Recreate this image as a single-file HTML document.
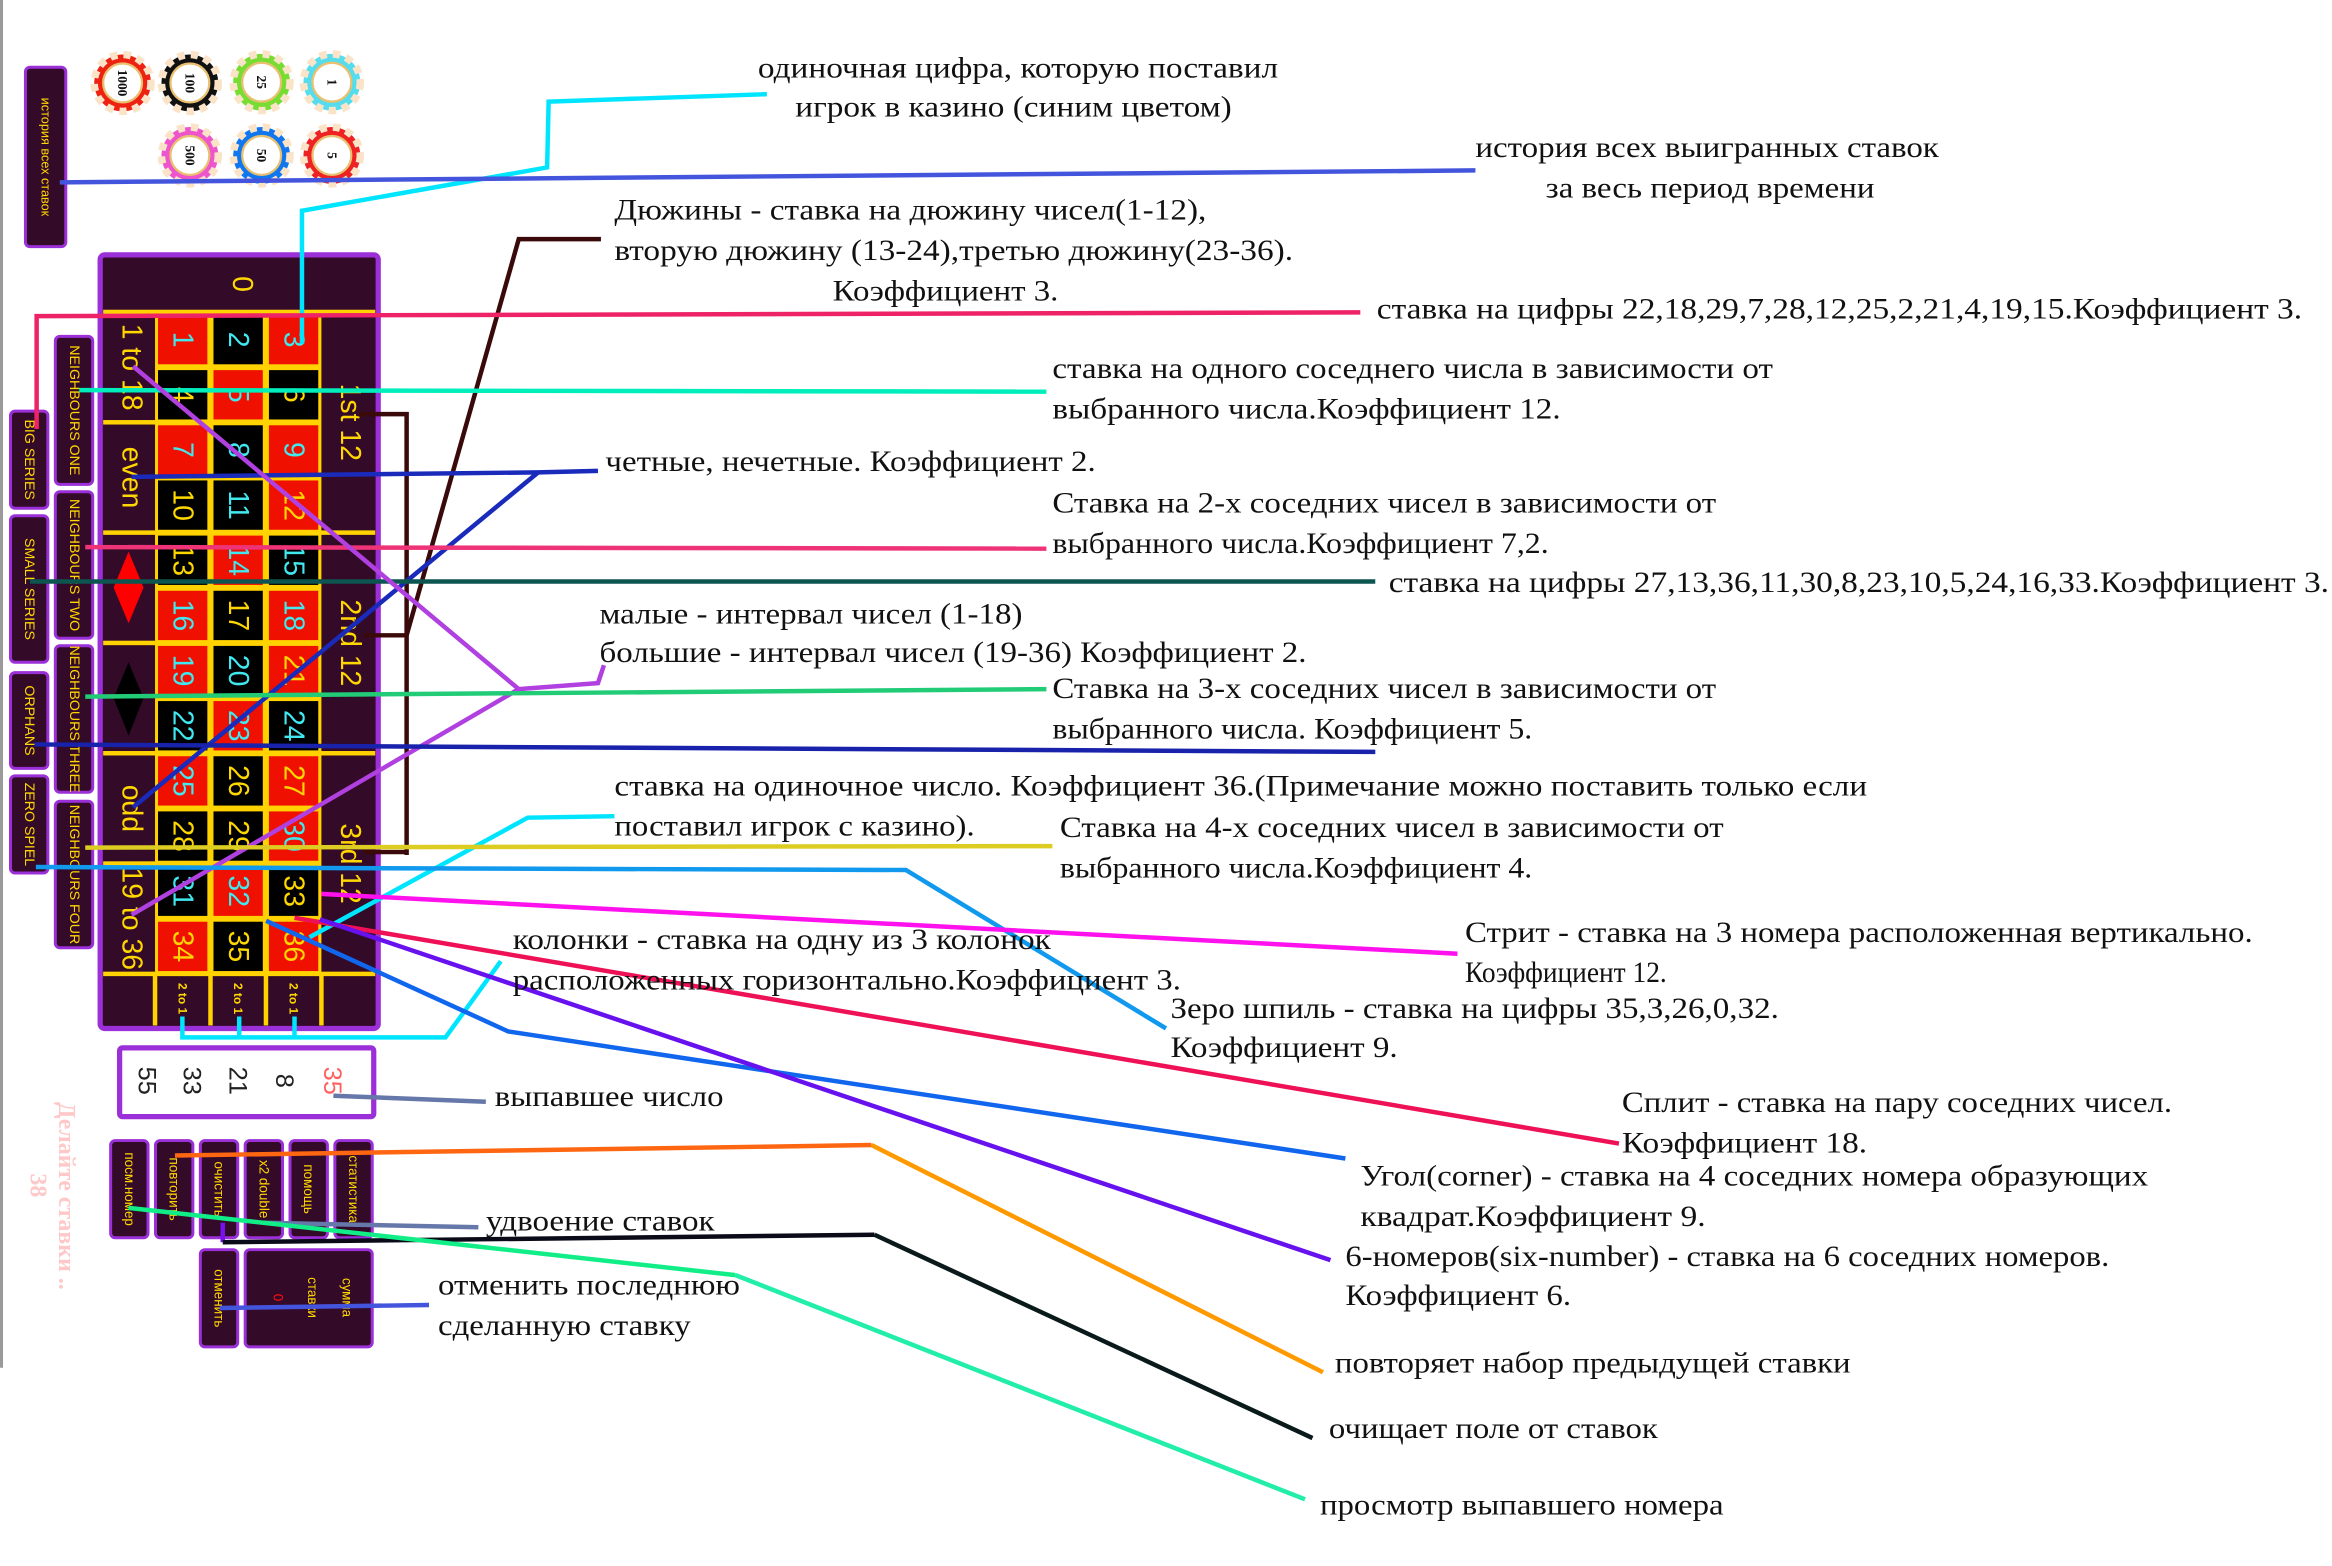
<!DOCTYPE html>
<html><head><meta charset="utf-8"><style>
html,body{margin:0;padding:0;background:#fff;}
svg{display:block;}
.t{font-family:"Liberation Serif",serif;font-size:20px;fill:#111;}
.s{font-family:"Liberation Sans",sans-serif;}
</style></head><body>
<svg width="2332" height="1566" viewBox="0 0 1560 1047.6" xmlns="http://www.w3.org/2000/svg">
<rect x="0" y="0" width="1560" height="1047.6" fill="#fff"/>
<line x1="1" y1="0" x2="1" y2="915" stroke="#999" stroke-width="2"/>

<!-- chips -->
<g stroke-dasharray="5 4" stroke-width="5">
<circle cx="82" cy="55.5" r="19" fill="#ee2211" stroke="#fbe3c8"/>
<circle cx="127" cy="55.5" r="19" fill="#111" stroke="#fbe3c8"/>
<circle cx="175" cy="55" r="19" fill="#77dd33" stroke="#fbe3c8"/>
<circle cx="222" cy="55" r="19" fill="#55ddee" stroke="#fbe3c8"/>
<circle cx="127" cy="104" r="19" fill="#ee55cc" stroke="#fbe3c8"/>
<circle cx="175" cy="104" r="19" fill="#1177ee" stroke="#fbe3c8"/>
<circle cx="222" cy="104" r="19" fill="#ee2222" stroke="#fbe3c8"/>
</g>
<g fill="#fff" stroke="#e8c070" stroke-width="1.5">
<circle cx="82" cy="55.5" r="13"/><circle cx="127" cy="55.5" r="13"/><circle cx="175" cy="55" r="13"/><circle cx="222" cy="55" r="13"/>
<circle cx="127" cy="104" r="13"/><circle cx="175" cy="104" r="13"/><circle cx="222" cy="104" r="13"/>
</g>
<g font-family="Liberation Serif,serif" font-weight="bold" font-size="9" fill="#111" text-anchor="middle" dominant-baseline="central">
<text transform="translate(82,55.5) rotate(90)">1000</text>
<text transform="translate(127,55.5) rotate(90)">100</text>
<text transform="translate(175,55) rotate(90)">25</text>
<text transform="translate(222,55) rotate(90)">1</text>
<text transform="translate(127,104) rotate(90)">500</text>
<text transform="translate(175,104) rotate(90)">50</text>
<text transform="translate(222,104) rotate(90)">5</text>
</g>

<!-- side boxes -->
<g fill="#330a28" stroke="#9b2fd8" stroke-width="2">
<rect x="17" y="45" width="27" height="120" rx="3"/>
<rect x="37" y="225" width="25" height="99" rx="3"/>
<rect x="37" y="329" width="25" height="98" rx="3"/>
<rect x="37" y="432" width="25" height="98" rx="3"/>
<rect x="37" y="536" width="25" height="98" rx="3"/>
<rect x="7" y="275" width="25" height="65" rx="3"/>
<rect x="7" y="345" width="25" height="98" rx="3"/>
<rect x="7" y="450" width="25" height="64" rx="3"/>
<rect x="7" y="519" width="25" height="65" rx="3"/>
</g>
<g class="s" font-size="9.5" fill="#ffd700" text-anchor="middle" dominant-baseline="central">
<text transform="translate(30.5,105) rotate(90)" font-size="8.5">история всех ставок</text>
<text transform="translate(49.5,274.5) rotate(90)">NEIGHBOURS ONE</text>
<text transform="translate(49.5,378) rotate(90)">NEIGHBOURS TWO</text>
<text transform="translate(49.5,481) rotate(90)">NEIGHBOURS THREE</text>
<text transform="translate(49.5,585) rotate(90)">NEIGHBOURS FOUR</text>
<text transform="translate(19.5,307.5) rotate(90)">BIG SERIES</text>
<text transform="translate(19.5,394) rotate(90)">SMALL SERIES</text>
<text transform="translate(19.5,482) rotate(90)">ORPHANS</text>
<text transform="translate(19.5,551.5) rotate(90)">ZERO SPIEL</text>
</g>

<!-- table -->
<rect x="67" y="170.5" width="186" height="517.5" rx="3" fill="#330a28" stroke="#9b2fd8" stroke-width="3.5"/>
<rect x="103.7" y="208.7" width="111.3" height="442.8" fill="#ffd200"/>
<g fill="#ffd200">
<rect x="69" y="207.2" width="182" height="3"/>
<rect x="69" y="281" width="36" height="3"/><rect x="69" y="354.8" width="36" height="3"/>
<rect x="69" y="428.6" width="36" height="3"/><rect x="69" y="502.4" width="36" height="3"/>
<rect x="69" y="576.2" width="36" height="3"/><rect x="69" y="650" width="182" height="3"/>
<rect x="214" y="354.8" width="37" height="3"/><rect x="214" y="502.4" width="37" height="3"/>
<rect x="102.2" y="651" width="3" height="35"/><rect x="139.3" y="651" width="3" height="35"/>
<rect x="176.4" y="651" width="3" height="35"/><rect x="213.5" y="651" width="3" height="35"/>
</g>
<g>
<!-- rows: fill red (#f01000) or black -->
<rect x="105.7" y="210.7" width="33" height="33" fill="#f01000"/><rect x="142.8" y="210.7" width="33" height="33" fill="#000"/><rect x="179.9" y="210.7" width="33" height="33" fill="#f01000"/>
<rect x="105.7" y="247.6" width="33" height="33" fill="#000"/><rect x="142.8" y="247.6" width="33" height="33" fill="#f01000"/><rect x="179.9" y="247.6" width="33" height="33" fill="#000"/>
<rect x="105.7" y="284.5" width="33" height="33" fill="#f01000"/><rect x="142.8" y="284.5" width="33" height="33" fill="#000"/><rect x="179.9" y="284.5" width="33" height="33" fill="#f01000"/>
<rect x="105.7" y="321.4" width="33" height="33" fill="#000"/><rect x="142.8" y="321.4" width="33" height="33" fill="#000"/><rect x="179.9" y="321.4" width="33" height="33" fill="#f01000"/>
<rect x="105.7" y="358.3" width="33" height="33" fill="#000"/><rect x="142.8" y="358.3" width="33" height="33" fill="#f01000"/><rect x="179.9" y="358.3" width="33" height="33" fill="#000"/>
<rect x="105.7" y="395.2" width="33" height="33" fill="#f01000"/><rect x="142.8" y="395.2" width="33" height="33" fill="#000"/><rect x="179.9" y="395.2" width="33" height="33" fill="#f01000"/>
<rect x="105.7" y="432.1" width="33" height="33" fill="#f01000"/><rect x="142.8" y="432.1" width="33" height="33" fill="#000"/><rect x="179.9" y="432.1" width="33" height="33" fill="#f01000"/>
<rect x="105.7" y="469" width="33" height="33" fill="#000"/><rect x="142.8" y="469" width="33" height="33" fill="#f01000"/><rect x="179.9" y="469" width="33" height="33" fill="#000"/>
<rect x="105.7" y="505.9" width="33" height="33" fill="#f01000"/><rect x="142.8" y="505.9" width="33" height="33" fill="#000"/><rect x="179.9" y="505.9" width="33" height="33" fill="#f01000"/>
<rect x="105.7" y="542.8" width="33" height="33" fill="#000"/><rect x="142.8" y="542.8" width="33" height="33" fill="#000"/><rect x="179.9" y="542.8" width="33" height="33" fill="#f01000"/>
<rect x="105.7" y="579.7" width="33" height="33" fill="#000"/><rect x="142.8" y="579.7" width="33" height="33" fill="#f01000"/><rect x="179.9" y="579.7" width="33" height="33" fill="#000"/>
<rect x="105.7" y="616.6" width="33" height="33" fill="#f01000"/><rect x="142.8" y="616.6" width="33" height="33" fill="#000"/><rect x="179.9" y="616.6" width="33" height="33" fill="#f01000"/>
</g>
<g class="s" font-size="19" text-anchor="middle" dominant-baseline="central">
<g fill="#40e8f0">
<text transform="translate(122.2,227.2) rotate(90)">1</text><text transform="translate(159.3,227.2) rotate(90)">2</text><text transform="translate(196.4,227.2) rotate(90)">3</text>
<text transform="translate(159.3,264.1) rotate(90)">5</text>
<text transform="translate(122.2,301) rotate(90)">7</text><text transform="translate(159.3,301) rotate(90)">8</text><text transform="translate(196.4,301) rotate(90)">9</text>
<text transform="translate(159.3,337.9) rotate(90)">11</text>
<text transform="translate(159.3,374.8) rotate(90)">14</text><text transform="translate(196.4,374.8) rotate(90)">15</text>
<text transform="translate(122.2,411.7) rotate(90)">16</text><text transform="translate(196.4,411.7) rotate(90)">18</text>
<text transform="translate(122.2,448.6) rotate(90)">19</text><text transform="translate(159.3,448.6) rotate(90)">20</text>
<text transform="translate(122.2,485.5) rotate(90)">22</text><text transform="translate(159.3,485.5) rotate(90)">23</text><text transform="translate(196.4,485.5) rotate(90)">24</text>
<text transform="translate(122.2,522.4) rotate(90)">25</text>
<text transform="translate(196.4,559.3) rotate(90)">30</text>
<text transform="translate(122.2,596.2) rotate(90)">31</text><text transform="translate(159.3,596.2) rotate(90)">32</text>
</g>
<g fill="#ffd700">
<text transform="translate(122.2,264.1) rotate(90)">4</text><text transform="translate(196.4,264.1) rotate(90)">6</text>
<text transform="translate(122.2,337.9) rotate(90)">10</text><text transform="translate(196.4,337.9) rotate(90)">12</text>
<text transform="translate(122.2,374.8) rotate(90)">13</text>
<text transform="translate(159.3,411.7) rotate(90)">17</text>
<text transform="translate(196.4,448.6) rotate(90)">21</text>
<text transform="translate(159.3,522.4) rotate(90)">26</text><text transform="translate(196.4,522.4) rotate(90)">27</text>
<text transform="translate(122.2,559.3) rotate(90)">28</text><text transform="translate(159.3,559.3) rotate(90)">29</text>
<text transform="translate(196.4,596.2) rotate(90)">33</text>
<text transform="translate(122.2,633.1) rotate(90)">34</text><text transform="translate(159.3,633.1) rotate(90)">35</text><text transform="translate(196.4,633.1) rotate(90)">36</text>
<text transform="translate(162,190) rotate(90)">0</text>
<text transform="translate(88,245.6) rotate(90)">1 to 18</text>
<text transform="translate(88,319.4) rotate(90)">even</text>
<text transform="translate(88,540.8) rotate(90)">odd</text>
<text transform="translate(88,614.6) rotate(90)">19 to 36</text>
<text transform="translate(234,282.5) rotate(90)">1st 12</text>
<text transform="translate(234,430.1) rotate(90)">2nd 12</text>
<text transform="translate(234,577.7) rotate(90)">3rd 12</text>
<g font-size="8" font-weight="bold">
<text transform="translate(122.2,668) rotate(90)">2 to 1</text>
<text transform="translate(159.3,668) rotate(90)">2 to 1</text>
<text transform="translate(196.4,668) rotate(90)">2 to 1</text>
</g>
</g>
</g>
<polygon points="86,369 96,393 86,417 76,393" fill="#ff0000"/>
<polygon points="86,443 96,467 86,492 76,467" fill="#000"/>

<!-- history box -->
<rect x="80" y="701" width="170" height="46" rx="2" fill="#fff" stroke="#9b2fd8" stroke-width="3.5"/>
<g class="s" font-size="17" text-anchor="middle" dominant-baseline="central" fill="#222">
<text transform="translate(98,723) rotate(90)">55</text>
<text transform="translate(128,723) rotate(90)">33</text>
<text transform="translate(159,723) rotate(90)">21</text>
<text transform="translate(190,723) rotate(90)">8</text>
<text transform="translate(222,723) rotate(90)" fill="#ff6060">35</text>
</g>

<!-- buttons -->
<g fill="#330a28" stroke="#9b2fd8" stroke-width="2">
<rect x="74" y="763" width="25" height="65" rx="3"/>
<rect x="104" y="763" width="25" height="65" rx="3"/>
<rect x="134" y="763" width="25" height="65" rx="3"/>
<rect x="164" y="763" width="25" height="65" rx="3"/>
<rect x="194" y="763" width="25" height="65" rx="3"/>
<rect x="224" y="763" width="25" height="65" rx="3"/>
<rect x="134" y="836" width="25" height="65" rx="3"/>
<rect x="164" y="836" width="85" height="65" rx="3"/>
</g>
<g class="s" font-size="9" fill="#ffd700" text-anchor="middle" dominant-baseline="central">
<text transform="translate(86.5,795.5) rotate(90)">посм.номер</text>
<text transform="translate(116.5,795.5) rotate(90)">повторить</text>
<text transform="translate(146.5,795.5) rotate(90)">очистить</text>
<text transform="translate(176.5,795.5) rotate(90)">x2 double</text>
<text transform="translate(206.5,795.5) rotate(90)">помощь</text>
<text transform="translate(236.5,795.5) rotate(90)">статистика</text>
<text transform="translate(146.5,868.5) rotate(90)">отменить</text>
<text transform="translate(232,868) rotate(90)">сумма</text>
<text transform="translate(209,868) rotate(90)">ставки</text>
<text transform="translate(186,868) rotate(90)" fill="#ff1010">0</text>
</g>
<g font-family="Liberation Serif,serif" font-weight="bold" fill="#ffc8c8" text-anchor="middle" dominant-baseline="central">
<text transform="translate(44,800) rotate(90)" font-size="16">Делайте ставки ..</text>
<text transform="translate(25,793) rotate(90)" font-size="16">38</text>
</g>

<!-- connectors -->
<g fill="none" stroke-width="3" stroke-linejoin="miter">
<polyline points="513,63 367,68 366,112 202,141 202,230" stroke="#00e5ff"/>
<line x1="40" y1="122" x2="987" y2="114" stroke="#4455dd"/>
<polyline points="402,160 347,160 272,425" stroke="#3a0a0a"/>
<polyline points="240,277 272,277 272,572" stroke="#3a0a0a"/>
<line x1="243" y1="425" x2="272" y2="425" stroke="#3a0a0a"/>
<line x1="243" y1="570" x2="272" y2="570" stroke="#3a0a0a"/>
<polyline points="910,209 24.5,211.5 24.5,287" stroke="#ee2266"/>
<line x1="53" y1="261" x2="700" y2="262" stroke="#00eebb"/>
<polyline points="400,315 360,316 88,319" stroke="#1a2abb"/>
<line x1="360" y1="316" x2="89" y2="540" stroke="#1a2abb"/>
<line x1="57" y1="366" x2="700" y2="367" stroke="#ee3377"/>
<line x1="20" y1="389" x2="920" y2="389" stroke="#0c5550"/>
<polyline points="404,445 400,457 347,461 89,245" stroke="#b040e0"/>
<line x1="347" y1="461" x2="88" y2="612" stroke="#b040e0"/>
<line x1="57" y1="466" x2="700" y2="461" stroke="#22cc77"/>
<line x1="23" y1="498" x2="920" y2="503" stroke="#1822aa"/>
<polyline points="411,546 353,547 207,627" stroke="#00e5ff"/>
<polyline points="122,680 122,694 298,694 335,643" stroke="#00e5ff"/>
<line x1="160" y1="680" x2="160" y2="694" stroke="#00e5ff"/>
<line x1="197" y1="680" x2="197" y2="694" stroke="#00e5ff"/>
<line x1="57" y1="567" x2="704" y2="566" stroke="#ddcc22"/>
<polyline points="24,580 606,582 780,688" stroke="#1199ee"/>
<line x1="215" y1="598" x2="975" y2="638" stroke="#ff11ee"/>
<line x1="197" y1="614" x2="1083" y2="765" stroke="#ee1155"/>
<polyline points="178,616 340,690 900,775" stroke="#1166ee"/>
<line x1="214" y1="615" x2="890" y2="843" stroke="#6611ee"/>
<line x1="223" y1="733" x2="325" y2="737" stroke="#6677aa"/>
<line x1="117" y1="773" x2="583" y2="766" stroke="#ff6611"/>
<line x1="583" y1="766" x2="885" y2="918" stroke="#ff9900"/>
<line x1="176" y1="818" x2="320" y2="821" stroke="#6677aa"/>
<line x1="149" y1="818" x2="149" y2="831" stroke="#7711ee"/>
<line x1="149" y1="831" x2="585" y2="826" stroke="#0a0a18"/>
<line x1="585" y1="826" x2="878" y2="962" stroke="#0a1a1a"/>
<line x1="147" y1="875" x2="287" y2="873" stroke="#4455dd"/>
<line x1="86" y1="808" x2="492" y2="853" stroke="#11ee88"/>
<line x1="492" y1="853" x2="873" y2="1003" stroke="#22eeaa"/>
</g>

<!-- annotations -->
<g class="t" lengthAdjust="spacingAndGlyphs">
<text x="507" y="52" textLength="348" lengthAdjust="spacingAndGlyphs">одиночная цифра, которую поставил</text>
<text x="532" y="78" textLength="292" lengthAdjust="spacingAndGlyphs">игрок в казино (синим цветом)</text>
<text x="987" y="105" textLength="310" lengthAdjust="spacingAndGlyphs">история всех выигранных ставок</text>
<text x="1034" y="132" textLength="220" lengthAdjust="spacingAndGlyphs">за весь период времени</text>
<text x="411" y="147" textLength="396" lengthAdjust="spacingAndGlyphs">Дюжины - ставка на дюжину чисел(1-12),</text>
<text x="411" y="174" textLength="454" lengthAdjust="spacingAndGlyphs">вторую дюжину (13-24),третью дюжину(23-36).</text>
<text x="557" y="201" textLength="151" lengthAdjust="spacingAndGlyphs">Коэффициент 3.</text>
<text x="921" y="213" textLength="619" lengthAdjust="spacingAndGlyphs">ставка на цифры 22,18,29,7,28,12,25,2,21,4,19,15.Коэффициент 3.</text>
<text x="704" y="253" textLength="482" lengthAdjust="spacingAndGlyphs">ставка на одного соседнего числа в зависимости от</text>
<text x="704" y="280" textLength="340" lengthAdjust="spacingAndGlyphs">выбранного числа.Коэффициент 12.</text>
<text x="405" y="315" textLength="328" lengthAdjust="spacingAndGlyphs">четные, нечетные. Коэффициент 2.</text>
<text x="704" y="343" textLength="444" lengthAdjust="spacingAndGlyphs">Ставка на 2-х соседних чисел в зависимости от</text>
<text x="704" y="370" textLength="332" lengthAdjust="spacingAndGlyphs">выбранного числа.Коэффициент 7,2.</text>
<text x="929" y="396" textLength="629" lengthAdjust="spacingAndGlyphs">ставка на цифры 27,13,36,11,30,8,23,10,5,24,16,33.Коэффициент 3.</text>
<text x="401" y="417" textLength="283" lengthAdjust="spacingAndGlyphs">малые - интервал чисел (1-18)</text>
<text x="401" y="443" textLength="473" lengthAdjust="spacingAndGlyphs">большие - интервал чисел (19-36) Коэффициент 2.</text>
<text x="704" y="467" textLength="444" lengthAdjust="spacingAndGlyphs">Ставка на 3-х соседних чисел в зависимости от</text>
<text x="704" y="494" textLength="321" lengthAdjust="spacingAndGlyphs">выбранного числа. Коэффициент 5.</text>
<text x="411" y="532" textLength="838" lengthAdjust="spacingAndGlyphs">ставка на одиночное число. Коэффициент 36.(Примечание можно поставить только если</text>
<text x="411" y="559" textLength="241" lengthAdjust="spacingAndGlyphs">поставил игрок с казино).</text>
<text x="709" y="560" textLength="444" lengthAdjust="spacingAndGlyphs">Ставка на 4-х соседних чисел в зависимости от</text>
<text x="709" y="587" textLength="316" lengthAdjust="spacingAndGlyphs">выбранного числа.Коэффициент 4.</text>
<text x="980" y="630" textLength="527" lengthAdjust="spacingAndGlyphs">Стрит - ставка на 3 номера расположенная вертикально.</text>
<text x="980" y="657" textLength="135" lengthAdjust="spacingAndGlyphs">Коэффициент 12.</text>
<text x="343" y="635" textLength="360" lengthAdjust="spacingAndGlyphs">колонки - ставка на одну из 3 колонок</text>
<text x="343" y="662" textLength="447" lengthAdjust="spacingAndGlyphs">расположенных горизонтально.Коэффициент 3.</text>
<text x="783" y="681" textLength="407" lengthAdjust="spacingAndGlyphs">Зеро шпиль - ставка на цифры 35,3,26,0,32.</text>
<text x="783" y="707" textLength="152" lengthAdjust="spacingAndGlyphs">Коэффициент 9.</text>
<text x="331" y="740" textLength="153" lengthAdjust="spacingAndGlyphs">выпавшее число</text>
<text x="1085" y="744" textLength="368" lengthAdjust="spacingAndGlyphs">Сплит - ставка на пару соседних чисел.</text>
<text x="1085" y="771" textLength="164" lengthAdjust="spacingAndGlyphs">Коэффициент 18.</text>
<text x="910" y="793" textLength="527" lengthAdjust="spacingAndGlyphs">Угол(corner) - ставка на 4 соседних номера образующих</text>
<text x="910" y="820" textLength="231" lengthAdjust="spacingAndGlyphs">квадрат.Коэффициент 9.</text>
<text x="325" y="823" textLength="153" lengthAdjust="spacingAndGlyphs">удвоение ставок</text>
<text x="900" y="847" textLength="511" lengthAdjust="spacingAndGlyphs">6-номеров(six-number) - ставка на 6 соседних номеров.</text>
<text x="900" y="873" textLength="151" lengthAdjust="spacingAndGlyphs">Коэффициент 6.</text>
<text x="293" y="866" textLength="202" lengthAdjust="spacingAndGlyphs">отменить последнюю</text>
<text x="293" y="893" textLength="169" lengthAdjust="spacingAndGlyphs">сделанную ставку</text>
<text x="893" y="918" textLength="345" lengthAdjust="spacingAndGlyphs">повторяет набор предыдущей ставки</text>
<text x="889" y="962" textLength="220" lengthAdjust="spacingAndGlyphs">очищает поле от ставок</text>
<text x="883" y="1013" textLength="270" lengthAdjust="spacingAndGlyphs">просмотр выпавшего номера</text>
</g>
</svg>
</body></html>
